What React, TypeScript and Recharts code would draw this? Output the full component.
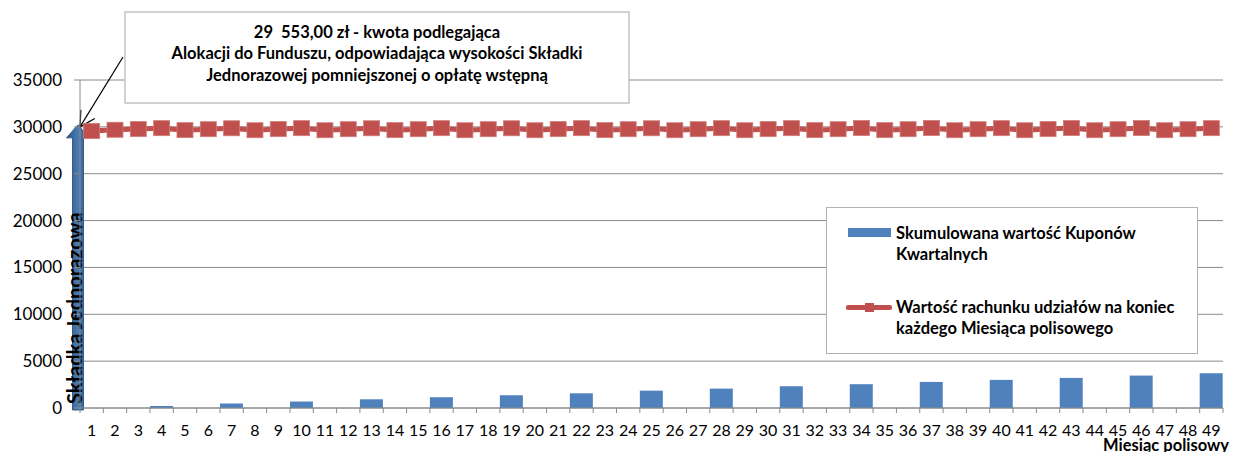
import React from "react";
import {
  ComposedChart,
  Bar,
  Line,
  XAxis,
  YAxis,
  CartesianGrid,
  Legend,
  ReferenceLine,
} from "recharts";

const months = [
  1, 2, 3, 4, 5, 6, 7, 8, 9, 10, 11, 12, 13, 14, 15, 16, 17, 18, 19, 20, 21, 22, 23, 24, 25,
  26, 27, 28, 29, 30, 31, 32, 33, 34, 35, 36, 37, 38, 39, 40, 41, 42, 43, 44, 45, 46, 47, 48, 49,
];

// coupons are paid every third month
const couponMonths = [4, 7, 10, 13, 16, 19, 22, 25, 28, 31, 34, 37, 40, 43, 46, 49];
const couponValues = [
  214, 480, 690, 930, 1150, 1360, 1570, 1850, 2070, 2320, 2540, 2780, 3000, 3210, 3460, 3710,
];

const accountValues = [
  29553,
  29690, 29760, 29860, 29650, 29750, 29850, 29640, 29760, 29860, 29640, 29750, 29850,
  29650, 29750, 29860, 29640, 29750, 29850, 29640, 29760, 29860, 29650, 29750, 29850,
  29640, 29750, 29860, 29640, 29760, 29860, 29650, 29750, 29870, 29650, 29750, 29880,
  29640, 29750, 29860, 29640, 29760, 29870, 29640, 29750, 29870, 29640, 29750, 29860,
];

const yTicks = [0, 5000, 10000, 15000, 20000, 25000, 30000, 35000];

const premium = 30000;

const annotationLines = [
  "29  553,00 zł - kwota podlegająca",
  "Alokacji do Funduszu, odpowiadająca wysokości Składki",
  "Jednorazowej pomniejszonej o opłatę wstępną",
];

const barName = ["Skumulowana wartość Kuponów", "Kwartalnych"];
const lineName = ["Wartość rachunku udziałów na koniec", "każdego Miesiąca polisowego"];

const FONT = "Lato, 'Open Sans', sans-serif";
const GRID = "#8a8a8a";
const BLUE = "#4F81BD";
const RED = "#C0504D";

const W = 1236;
const H = 452;
const Y_W = 80;
const RIGHT = 13;
const BAND = (W - Y_W - RIGHT) / months.length;

const data = months.map((m, i) => {
  const c = couponMonths.indexOf(m);
  return {
    month: String(m),
    kupony: c >= 0 ? couponValues[c] : null,
    rachunek: accountValues[i],
  };
});

function MonthTick(props: any) {
  const { x, y, payload, index } = props;
  const half = BAND / 2;
  return (
    <g>
      <line x1={x - half} y1={y - 5} x2={x - half} y2={y} stroke={GRID} />
      {index === months.length - 1 && (
        <line x1={x + half} y1={y - 5} x2={x + half} y2={y} stroke={GRID} />
      )}
      <text x={x} y={y + 23} textAnchor="middle" fontSize={16} fontFamily={FONT} fill="#000">
        {payload.value}
      </text>
    </g>
  );
}

function SquareDot(props: any) {
  const { cx, cy } = props;
  if (cx == null || cy == null) return null;
  return <rect x={cx - 8} y={cy - 7.5} width={16} height={15} fill={RED} stroke="#cf7b78" strokeWidth={0.8} />;
}

function PremiumArrow(props: any) {
  const { x1, y1, y2 } = props;
  const cx = x1 - 2;
  const tipY = y2 - 2;
  const headY = tipY + 13;
  const bottom = y1 + 2;
  // thin pointer from the note box
  const sx = 123;
  const sy = 57;
  const tx = x1;
  const ty = y2;
  const ang = Math.atan2(sy - ty, sx - tx);
  const hl = 17;
  const a1 = ang + 0.5;
  const a2 = ang - 0.5;
  return (
    <g>
      <defs>
        <linearGradient id="shaft" x1="0" y1="0" x2="1" y2="0">
          <stop offset="0" stopColor="#2a5281" />
          <stop offset="0.5" stopColor="#4b7bb2" />
          <stop offset="1" stopColor="#2a5281" />
        </linearGradient>
      </defs>
      <polygon
        points={`${cx - 5.5},${bottom} ${cx - 5.5},${headY} ${cx - 11.5},${headY} ${cx},${tipY} ${cx + 11.5},${headY} ${cx + 5.5},${headY} ${cx + 5.5},${bottom}`}
        fill="url(#shaft)"
        stroke="#335d8d"
        strokeWidth={1}
      />
      <text
        x={x1 + 2}
        y={bottom - 6}
        transform={`rotate(-90, ${x1 + 2}, ${bottom - 6})`}
        fontSize={20}
        fontWeight={700}
        fontFamily={FONT}
        fill="#000"
      >
        Składka Jednorazowa
      </text>
      <rect x={125} y={12} width={504} height={91} fill="#fff" stroke="#c3c3c3" strokeWidth={1.5} />
      {annotationLines.map((t, i) => (
        <text
          key={i}
          x={377}
          y={37.5 + i * 21.5}
          textAnchor="middle"
          fontSize={16.5}
          fontWeight={700}
          fontFamily={FONT}
          fill="#000"
          style={{ whiteSpace: "pre" }}
        >
          {t}
        </text>
      ))}
      <line x1={sx} y1={sy} x2={tx} y2={ty} stroke="#000" strokeWidth={1.2} />
      <line x1={tx} y1={ty} x2={tx + hl * Math.cos(a1)} y2={ty + hl * Math.sin(a1)} stroke="#000" strokeWidth={1.2} />
      <line x1={tx} y1={ty} x2={tx + hl * Math.cos(a2)} y2={ty + hl * Math.sin(a2)} stroke="#000" strokeWidth={1.2} />
    </g>
  );
}

function LegendBox() {
  const text: React.CSSProperties = {
    position: "absolute",
    left: 69,
    fontFamily: FONT,
    fontWeight: 700,
    fontSize: 16.5,
    lineHeight: "21px",
    color: "#000",
    whiteSpace: "nowrap",
  };
  return (
    <div
      style={{
        position: "relative",
        width: 372,
        height: 147,
        boxSizing: "border-box",
        border: "1.5px solid #b0b0b0",
        background: "#fff",
      }}
    >
      <div style={{ position: "absolute", left: 21, top: 20, width: 43, height: 9, background: BLUE }} />
      <div style={{ ...text, top: 15 }}>
        {barName[0]}
        <br />
        {barName[1]}
      </div>
      <div style={{ position: "absolute", left: 19, top: 96.5, width: 46, height: 5, background: RED, borderRadius: 2 }} />
      <div style={{ position: "absolute", left: 38, top: 94.5, width: 9, height: 9, background: RED }} />
      <div style={{ ...text, top: 88.5 }}>
        {lineName[0]}
        <br />
        {lineName[1]}
      </div>
    </div>
  );
}

export default function App() {
  return (
    <div style={{ position: "absolute", left: 0, top: 0, width: W, height: H, background: "#fff" }}>
      <ComposedChart
        width={W}
        height={H}
        data={data}
        margin={{ top: 80, right: RIGHT, bottom: 0, left: 0 }}
        barCategoryGap={0}
      >
        <CartesianGrid vertical={false} stroke={GRID} />
        <XAxis
          dataKey="month"
          height={44}
          interval={0}
          tickLine={false}
          tickSize={5}
          tickMargin={0}
          axisLine={{ stroke: GRID }}
          tick={<MonthTick />}
          label={(p: any) => {
            const vb = p.viewBox || {};
            return (
              <text
                x={vb.x + vb.width + 6}
                y={vb.y + 43}
                textAnchor="end"
                fontSize={16.5}
                fontWeight={700}
                fontFamily={FONT}
                fill="#000"
              >
                Miesiąc polisowy
              </text>
            );
          }}
        />
        <YAxis
          width={Y_W}
          domain={[0, 35000]}
          ticks={yTicks}
          interval={0}
          tickSize={6}
          tickMargin={12}
          tickLine={{ stroke: GRID }}
          axisLine={{ stroke: GRID }}
          tick={{ fontSize: 17, fill: "#000", fontFamily: FONT }}
        />
        <Legend
          content={() => <LegendBox />}
          layout="horizontal"
          verticalAlign="middle"
          align="center"
          wrapperStyle={{ position: "absolute", left: 826, top: 207, width: 372, height: 147 }}
        />
        <Bar dataKey="kupony" name={barName.join(" ")} fill={BLUE} isAnimationActive={false} />
        <Line
          dataKey="rachunek"
          name={lineName.join(" ")}
          stroke={RED}
          strokeWidth={5}
          dot={<SquareDot />}
          activeDot={false}
          isAnimationActive={false}
        />
        <ReferenceLine
          segment={[
            { x: "1", y: 0 },
            { x: "1", y: premium },
          ]}
          position="start"
          ifOverflow="visible"
          shape={(p: any) => <PremiumArrow {...p} />}
        />
      </ComposedChart>
    </div>
  );
}
